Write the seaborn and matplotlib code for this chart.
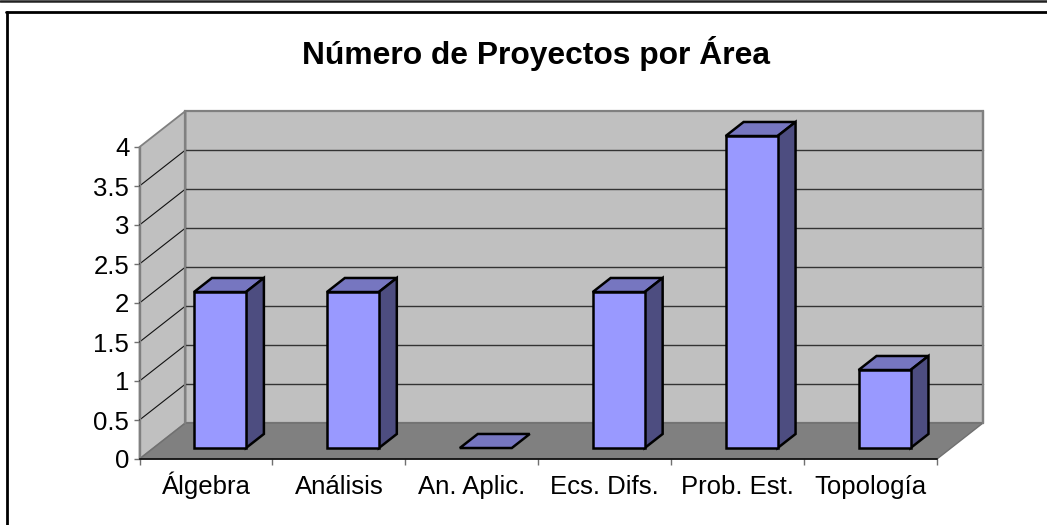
import matplotlib
matplotlib.use("Agg")
import matplotlib.pyplot as plt
from matplotlib.patches import Polygon, Rectangle
from matplotlib.lines import Line2D
import seaborn as sns
import pandas as pd

# ---- data ----
categories = ["Álgebra", "Análisis", "An. Aplic.", "Ecs. Difs.", "Prob. Est.", "Topología"]
projects = [2, 2, 0, 2, 4, 1]
y_ticks = [0, 0.5, 1, 1.5, 2, 2.5, 3, 3.5, 4]
y_tick_labels = ["0", "0.5", "1", "1.5", "2", "2.5", "3", "3.5", "4"]
title = "Número de Proyectos por Área"

W, H = 1047, 525
sns.set_theme(style="white")
plt.rcParams["font.family"] = ["Liberation Sans", "DejaVu Sans"]

fig = plt.figure(figsize=(W / 100, H / 100), dpi=100, facecolor="white")
# front plane of the 3-D box
L, R, T, B = 139.5, 937.0, 147.0, 459.0
ax = fig.add_axes([L / W, 1 - B / H, (R - L) / W, (B - T) / H])
ax.patch.set_alpha(0)

df = pd.DataFrame({"area": categories, "n": projects})
BAR_W = 52 / 133
sns.barplot(data=df, x="area", y="n", ax=ax, color="#9999FF", width=BAR_W,
            saturation=1, edgecolor="black", linewidth=1.8, zorder=5)
ax.set_xlim(-0.5, 5.5)
ax.set_ylim(0, 4)

# depth vector of the box, in data units
DX, DY = 46 / 133, 36 / 78


def proj(x, y, d):
    return (x + d * DX, y + d * DY)


WALL, FLOOR, EDGE = "#C0C0C0", "#808080", "#808080"
x0, x1 = -0.5, 5.5
kw = dict(clip_on=False, zorder=1)
# back wall
ax.add_patch(Polygon([proj(x0, 0, 1), proj(x1, 0, 1), proj(x1, 4, 1), proj(x0, 4, 1)],
                     fc=WALL, ec=EDGE, lw=1.6, **kw))
# side wall
ax.add_patch(Polygon([proj(x0, 0, 0), proj(x0, 0, 1), proj(x0, 4, 1), proj(x0, 4, 0)],
                     fc=WALL, ec=EDGE, lw=1.3, **kw))
# floor
ax.add_patch(Polygon([proj(x0, 0, 0), proj(x1, 0, 0), proj(x1, 0, 1), proj(x0, 0, 1)],
                     fc=FLOOR, ec="#707070", lw=1.0, clip_on=False, zorder=2))
# gridlines
for v in y_ticks[1:-1]:
    ax.add_line(Line2D(*zip(proj(x0, v, 0), proj(x0, v, 1)), color="#111111", lw=0.8,
                       clip_on=False, zorder=3))
    ax.add_line(Line2D(*zip(proj(x0, v, 1), proj(x1, v, 1)), color="#333333", lw=1.0,
                       clip_on=False, zorder=3))
# redraw wall corner over the gridline ends
ax.add_line(Line2D(*zip(proj(x0, 0, 1), proj(x0, 4, 1)), color=EDGE, lw=1.6, clip_on=False, zorder=3))
ax.add_line(Line2D(*zip(proj(x1, 0, 1), proj(x1, 4, 1)), color=EDGE, lw=1.6, clip_on=False, zorder=3))

# bars: front face from seaborn, moved into the depth of the box, plus top and side faces
D0, D1 = 0.305, 0.695
TOP, SIDE = "#7676C0", "#4D4D80"
bars = [p for p in ax.patches if isinstance(p, Rectangle)]
for i, (bar, v) in enumerate(zip(bars, projects)):
    xa, ya = proj(i - BAR_W / 2, 0, D0)
    bar.set_x(xa)
    bar.set_y(ya)
    bar.set_clip_on(False)
    if v == 0:
        bar.set_visible(False)
    xl, xr = i - BAR_W / 2, i + BAR_W / 2
    ax.add_patch(Polygon([proj(xl, v, D0), proj(xr, v, D0), proj(xr, v, D1), proj(xl, v, D1)],
                         fc=TOP, ec="black", lw=1.8, clip_on=False, zorder=4, joinstyle="miter"))
    if v > 0:
        ax.add_patch(Polygon([proj(xr, 0, D0), proj(xr, 0, D1), proj(xr, v, D1), proj(xr, v, D0)],
                             fc=SIDE, ec="black", lw=1.8, clip_on=False, zorder=4, joinstyle="miter"))

# axes
for s in ("top", "right"):
    ax.spines[s].set_visible(False)
ax.spines["left"].set_color("#808080")
ax.spines["left"].set_linewidth(1.0)
ax.spines["left"].set_zorder(6)
ax.spines["bottom"].set_color("black")
ax.spines["bottom"].set_linewidth(1.1)
ax.spines["bottom"].set_zorder(6)
ax.set_xlabel("")
ax.set_ylabel("")
ax.set_yticks(y_ticks)
ax.set_yticklabels(y_tick_labels, fontsize=18.5, color="black")
ax.set_xticks(range(len(categories)))
ax.set_xticklabels(categories, fontsize=18.5, color="black", va="baseline")
ax.set_xticks([k - 0.5 for k in range(len(categories) + 1)], minor=True)
ax.tick_params(axis="x", which="major", length=0, pad=25.5)
ax.tick_params(axis="x", which="minor", length=4.3, width=1.0, color="#707070", bottom=True)
ax.tick_params(axis="y", length=4.3, width=1.0, color="#707070", pad=3, left=True)

fig.text(536.5 / W, 1 - 53.5 / H, title, ha="center", va="center",
         fontsize=22.9, fontweight="bold", color="black")

# frame: left and top rules, and the line along the top of the picture
frame = dict(transform=fig.transFigure, color="black", lw=2.0)
fig.add_artist(Line2D([7 / W, 7 / W], [0, 1 - 12 / H], **frame))
fig.add_artist(Line2D([6 / W, 1], [1 - 12 / H, 1 - 12 / H], **frame))
fig.add_artist(Line2D([0, 1], [1 - 1 / H, 1 - 1 / H], transform=fig.transFigure, color="#222222", lw=1.8))

fig.savefig("out.png", dpi=100, facecolor="white")
